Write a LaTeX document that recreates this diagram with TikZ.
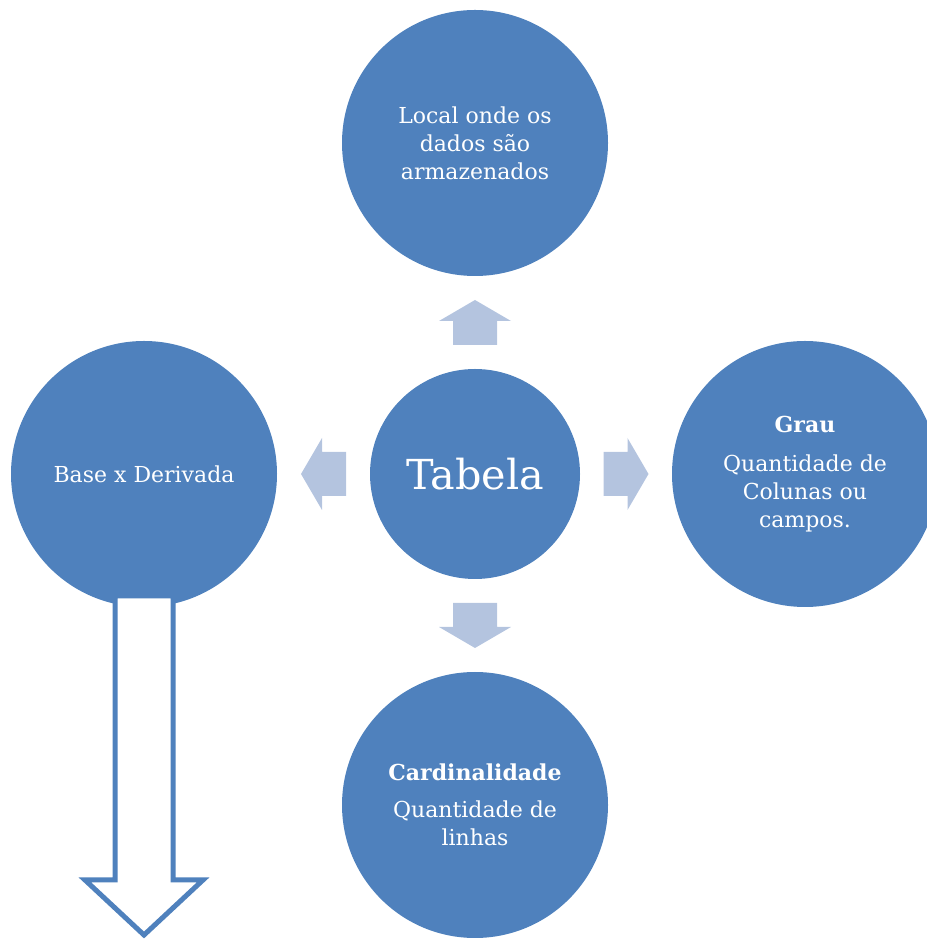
\documentclass[tikz,border=0pt]{standalone}
\usepackage{fontspec}
\setmainfont{DejaVu Serif}
\usetikzlibrary{calc}

\definecolor{azul}{HTML}{4F81BD}
\definecolor{azulclaro}{HTML}{B4C4DF}

\begin{document}
\begin{tikzpicture}[x=0.75pt, y=0.75pt,
  bola/.style={circle, fill=azul, text=white, minimum size=199.5pt,
    inner sep=0pt, outer sep=0pt, align=center,
    font=\fontsize{16.5}{21}\selectfont},
  seta/.style={fill=azulclaro},
  setagrande/.style={draw=azul, fill=white, line width=3.75pt}]

  \useasboundingbox (0,0) rectangle (927,939);
  \clip (0,0) rectangle (927,939);

  \newcommand\setabloco[2]{%% #1 centro, #2 angulo
    \fill[seta, shift={(#1)}, rotate=#2]
    (-22.5,-22) -- (1.5,-22) -- (1.5,-36) -- (22.5,0)
    -- (1.5,36) -- (1.5,22) -- (-22.5,22) -- cycle;}

  %% circulos
  \node[bola, minimum size=157.5pt, font=\fontsize{31}{36}\selectfont]
  (tabela) at (475,465) {Tabela};
  \node[bola] (local) at (475,796) {Local onde os\\dados são\\armazenados};
  \node[bola] (base) at (144,465) {Base x Derivada};
  \node[bola] (grau) at (805,465)
  {\textbf{Grau}\\[8pt]Quantidade de\\Colunas ou\\campos.};
  \node[bola] (card) at (475,134)
  {\textbf{Cardinalidade}\\[7pt]Quantidade de\\linhas};

  %% setas entre os circulos
  \coordinate (sn) at ($(tabela.north)!.5!(local.south)$);
  \coordinate (so) at ($(tabela.west)!.5!(base.east)$);
  \coordinate (sl) at ($(tabela.east)!.5!(grau.west)$);
  \coordinate (ss) at ($(tabela.south)!.5!(card.north)$);

  \setabloco{sn}{90}
  \setabloco{so}{180}
  \setabloco{sl}{0}
  \setabloco{ss}{270}

  %% seta grande (base -> baixo)
  \draw[setagrande, shift={(base.south)}]
  (-29,11) -- (29,11) -- (29,-273) -- (59,-273) -- (0,-328)
  -- (-59,-273) -- (-29,-273) -- cycle;

\end{tikzpicture}
\end{document}
